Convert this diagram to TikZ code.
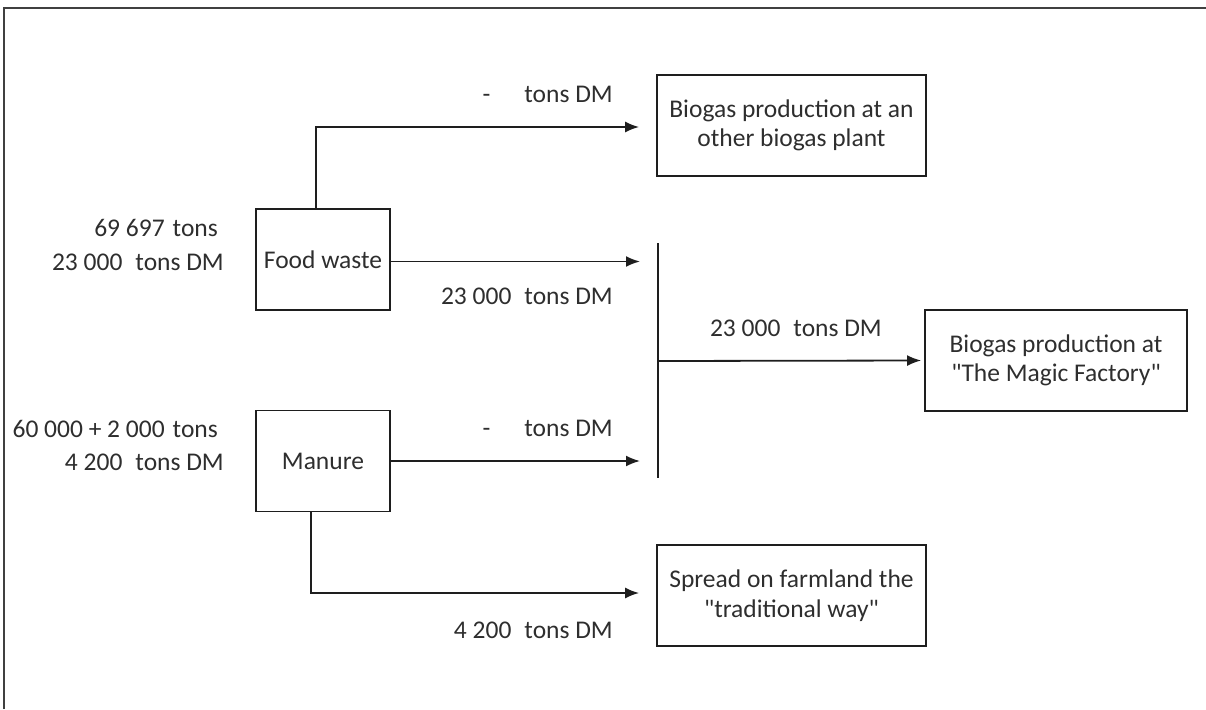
\documentclass[tikz,border=0pt]{standalone}
\usepackage{fontspec}
\newfontfamily\diafont{Carlito}
\usetikzlibrary{arrows.meta}
\definecolor{ink}{HTML}{1E1E1E}
\definecolor{txt}{HTML}{2E2E2E}
\begin{document}
\begin{tikzpicture}[x=1pt,y=-1pt,
  box/.style={draw=ink,line width=1.8pt,inner sep=0pt,align=center,text=txt,font=\diafont\fontsize{25.5}{29.5}\selectfont},
  lbl/.style={inner sep=0pt,text=txt,font=\diafont\fontsize{25.5}{29.5}\selectfont},
  flow/.style={draw=ink,line width=1.8pt,-{Latex[length=14pt,width=11pt]}},
  bar/.style={draw=ink,line width=1.8pt},
  frame/.style={draw=ink!85,line width=2.6pt}]
\useasboundingbox (0,0) rectangle (1206,709);
\draw[frame] (4,709) -- (4,8) -- (1206,8);

% boxes
\node[box,minimum width=134pt,minimum height=101pt] (food) at (323,259.5) {Food waste};
\node[box,minimum width=134pt,minimum height=101pt] (manure) at (323,461) {Manure};
\node[box,minimum width=269pt,minimum height=101pt] (other) at (791.5,125.5) {Biogas production at an\\other biogas plant};
\node[box,minimum width=262pt,minimum height=101pt] (magic) at (1056,360.5) {Biogas production at\\"The Magic Factory"};
\node[box,minimum width=269pt,minimum height=101pt] (spread) at (791.5,595.5) {Spread on farmland the\\"traditional way"};

% collector bar
\coordinate (bartop) at (658,243);
\coordinate (barbot) at (658,478);
\coordinate (barmid) at (658,361);
\draw[bar] (bartop) -- (barbot);

% connectors
\draw[flow] ([xshift=-7pt]food.north) |- ([xshift=-17pt,yshift=-1.5pt]other.west);
\draw[flow,shorten >=18pt] ([yshift=-2pt]food.east) -- ([yshift=-2pt]food.east -| bartop);
\draw[flow,shorten >=18pt] (manure.east) -- (manure.east -| bartop);
\draw[flow,shorten >=3pt] (barmid) -- (magic.west);
\draw[flow] ([xshift=-12pt]manure.south) |- ([xshift=-17pt,yshift=2.5pt]spread.west);

% labels
\node[lbl,anchor=east] (l1) at (613,94) {-\hspace{34pt}tons DM};
\node[lbl,anchor=east] (l2) at (613,296) {23 000\hspace{13pt}tons DM};
\node[lbl,anchor=east] (l3) at (882,328) {23 000\hspace{13pt}tons DM};
\node[lbl,anchor=east] (l4) at (613,428) {-\hspace{34pt}tons DM};
\node[lbl,anchor=east] (l5) at (613,630) {4 200\hspace{13pt}tons DM};
\node[lbl,anchor=east] (fa) at (218,228) {69 697\hspace{8pt}tons};
\node[lbl,anchor=east] (fb) at (224,262) {23 000\hspace{13pt}tons DM};
\node[lbl,anchor=east] (ma) at (218,429) {60 000 + 2 000\hspace{8pt}tons};
\node[lbl,anchor=east] (mb) at (224,462) {4 200\hspace{13pt}tons DM};
\end{tikzpicture}
\end{document}
